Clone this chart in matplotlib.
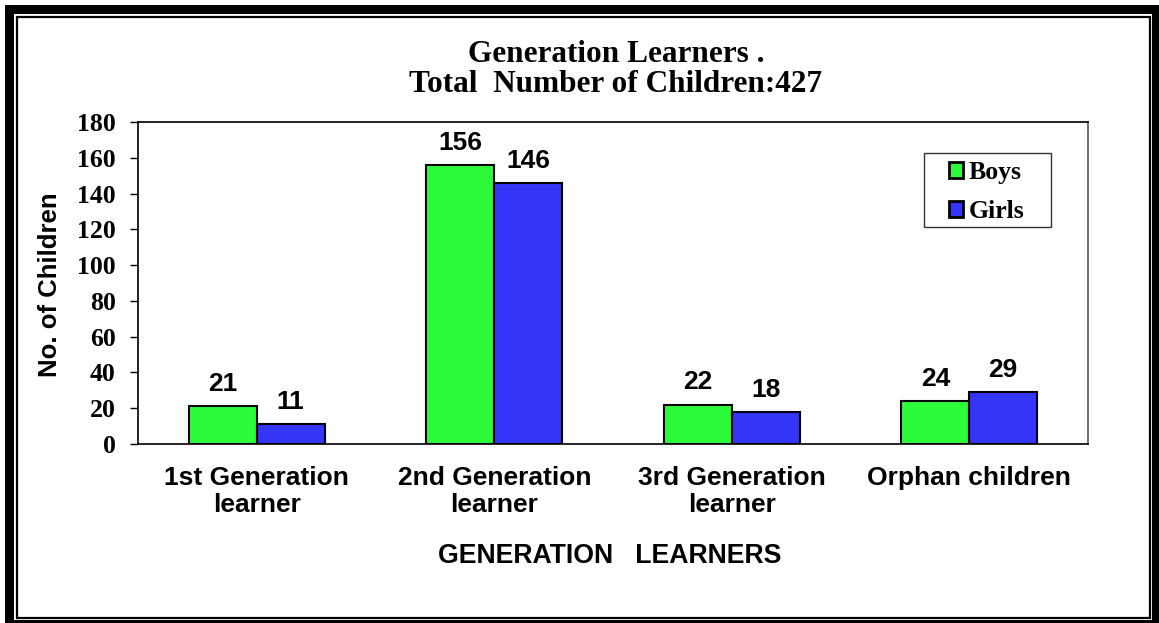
import matplotlib
matplotlib.use("Agg")
import matplotlib.pyplot as plt
from matplotlib.patches import Rectangle
import numpy as np

categories = ["1st Generation\nlearner", "2nd Generation\nlearner",
              "3rd Generation\nlearner", "Orphan children"]
boys = [21, 156, 22, 24]
girls = [11, 146, 18, 29]
yticks = [0, 20, 40, 60, 80, 100, 120, 140, 160, 180]

W, H = 1159, 623
fig = plt.figure(figsize=(W / 100, H / 100), dpi=100)
fig.patch.set_facecolor("white")


def frect(x0, y0_top, x1, y1_top, **kw):
    # rectangle given in pixel coords measured from the top-left
    return Rectangle((x0 / W, (H - y1_top) / H), (x1 - x0) / W, (y1_top - y0_top) / H,
                     transform=fig.transFigure, **kw)


# frame: thick outer + thin inner line
fig.patches.append(frect(5, 5, W, 623, facecolor="black", edgecolor="none", zorder=-10))
fig.patches.append(frect(14, 14, 1152, 620, facecolor="white", edgecolor="none", zorder=-9))
fig.patches.append(frect(16.5, 16.5, 1149.5, 617.5, facecolor="none", edgecolor="black",
                         linewidth=1.6, zorder=-8))

ax_l, ax_r, ax_t, ax_b = 138, 1088, 122, 444
ax = fig.add_axes([ax_l / W, (H - ax_b) / H, (ax_r - ax_l) / W, (ax_b - ax_t) / H])
ax.set_facecolor("none")

# legend box
lbox = frect(924, 153, 1051, 227, facecolor="white", edgecolor="#333333",
             linewidth=1.0, zorder=5)
lbox.set_clip_on(False)
ax.add_artist(lbox)

x = np.arange(len(categories))
w = 0.286
green = "#2EFA3C"
blue = "#3535F8"
b1 = ax.bar(x - w / 2, boys, w, color=green, edgecolor="black", linewidth=1.5, label="Boys", zorder=3)
b2 = ax.bar(x + w / 2, girls, w, color=blue, edgecolor="black", linewidth=1.5, label="Girls", zorder=3)

for bars, vals in ((b1, boys), (b2, girls)):
    for r, v in zip(bars, vals):
        ax.annotate(str(v), (r.get_x() + r.get_width() / 2, v),
                    xytext=(0, 11), textcoords="offset points",
                    ha="center", va="baseline", fontsize=19, fontweight="bold",
                    family="Liberation Sans")

ax.set_xlim(-0.5, len(categories) - 0.5)
ax.set_ylim(0, 180)
ax.set_yticks(yticks)
ax.set_yticklabels([str(v) for v in yticks], family="Liberation Serif",
                   fontweight="bold", fontsize=18.5)
ax.tick_params(axis="y", direction="out", length=6, width=1, pad=10, color="black")
ax.set_xticks(x)
ax.set_xticklabels(categories, family="Liberation Sans", fontweight="bold",
                   fontsize=19, linespacing=1.15)
ax.tick_params(axis="x", length=0, pad=16)

for s in ("left", "bottom", "top"):
    ax.spines[s].set_color("black")
    ax.spines[s].set_linewidth(1.2)
ax.spines["right"].set_color("#555555")
ax.spines["right"].set_linewidth(1.2)

leg = ax.legend(loc="upper left", bbox_to_anchor=(949 / W, (H - 161) / H),
                bbox_transform=fig.transFigure,
                prop={"family": "Liberation Serif", "weight": "bold", "size": 18.5},
                frameon=False, handlelength=0.55, handleheight=0.55, handletextpad=0.2,
                labelspacing=0.62, borderpad=0, borderaxespad=0)
leg.set_zorder(6)
for h in leg.legend_handles:
    h.set_linewidth(2)

fig.text(616 / W, (H - 62) / H, "Generation Learners .", ha="center", va="baseline",
         family="Liberation Serif", fontweight="bold", fontsize=22.5)
fig.text(616 / W, (H - 92) / H, "Total  Number of Children:427", ha="center", va="baseline",
         family="Liberation Serif", fontweight="bold", fontsize=22.5)

fig.text(610 / W, (H - 563) / H, "GENERATION   LEARNERS", ha="center", va="baseline",
         family="Liberation Sans", fontweight="bold", fontsize=19.2)
fig.text(57 / W, (H - 285) / H, "No. of Children", ha="center", va="baseline",
         rotation=90, rotation_mode="anchor",
         family="Liberation Sans", fontweight="bold", fontsize=18.5)

fig.savefig("out.png", dpi=100, facecolor="white")
